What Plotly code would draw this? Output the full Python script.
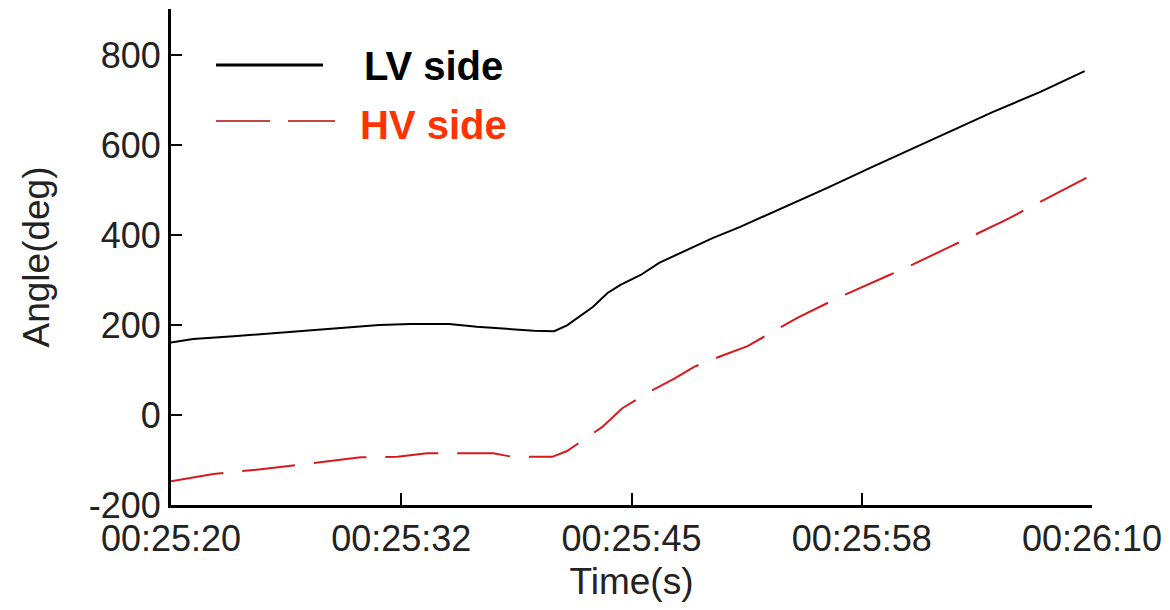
import plotly.graph_objects as go

# time in seconds after 00:25:20
lv_t = [0.0, 1.2, 3.4, 5.2, 6.8, 9.3, 11.3, 13.0, 15.1, 16.6, 18.4, 19.7, 20.8, 21.5, 22.9, 23.7,
        24.4, 25.5, 26.5, 28.0, 29.4, 30.9, 32.7, 34.1, 35.6, 37.9, 40.1, 42.3, 44.6, 47.2, 49.6]
lv_angle = [161, 169, 175, 181, 186, 193, 200, 202, 202, 196, 191, 187, 186, 199, 240, 271,
            289, 311, 338, 367, 393, 418, 451, 478, 504, 548, 589, 630, 673, 718, 764]

hv_t = [0.0, 2.3, 5.0, 8.1, 10.3, 12.3, 13.9, 17.5, 18.4, 20.0, 20.7, 21.5, 23.4, 24.5, 25.9,
        27.3, 28.4, 29.8, 31.3, 34.0, 36.3, 39.0, 40.2, 42.3, 44.1, 45.3, 48.1, 49.7]
hv_angle = [-147, -131, -120, -104, -94, -93, -85, -85, -92, -93, -93, -80, -27, 15, 50,
            80, 107, 130, 153, 216, 262, 311, 333, 374, 409, 433, 493, 527]

tick_vals = [0, 12.5, 25, 37.5, 50]
tick_text = ["00:25:20", "00:25:32", "00:25:45", "00:25:58", "00:26:10"]
y_ticks = [-200, 0, 200, 400, 600, 800]
y_tick_text = ["-200", "0", "200", "400", "600", "800"]

FONT = "Liberation Sans, Arial, sans-serif"

fig = go.Figure()
fig.add_trace(go.Scatter(x=lv_t, y=lv_angle, mode="lines", name="LV side",
                         line=dict(color="black", width=2)))
fig.add_trace(go.Scatter(x=hv_t, y=hv_angle, mode="lines", name="HV side",
                         line=dict(color="rgb(215,25,30)", width=2, dash="53px,19px")))

# custom legend
fig.add_shape(type="line", xref="paper", yref="paper", x0=0.0489, x1=0.165, y0=0.887, y1=0.887,
              line=dict(color="black", width=3))
fig.add_shape(type="line", xref="paper", yref="paper", x0=0.0489, x1=0.178, y0=0.774, y1=0.774,
              line=dict(color="rgb(190,70,70)", width=2, dash="54px,18px"))
fig.add_annotation(xref="paper", yref="paper", x=0.2074, y=0.885, text="<b>LV side</b>",
                   showarrow=False, xanchor="left", yanchor="middle",
                   font=dict(family=FONT, size=40, color="black"))
fig.add_annotation(xref="paper", yref="paper", x=0.2030, y=0.766, text="<b>HV side</b>",
                   showarrow=False, xanchor="left", yanchor="middle",
                   font=dict(family=FONT, size=40, color="rgb(255,51,0)"))

fig.update_layout(
    width=1170, height=610,
    margin=dict(l=171, r=78, t=9, b=105),
    plot_bgcolor="white", paper_bgcolor="white",
    showlegend=False,
    font=dict(family=FONT, size=37, color="#222"),
)
fig.update_xaxes(range=[0, 50], tickvals=tick_vals, ticktext=tick_text,
                 showline=True, linewidth=3, linecolor="black",
                 ticks="inside", ticklen=12, tickwidth=2, tickcolor="black",
                 showgrid=False, zeroline=False,
                 tickfont=dict(size=36, color="#222"),
                 title=dict(text="Time(s)", font=dict(size=37, color="#222"), standoff=10))
fig.update_yaxes(range=[-200, 902], tickvals=y_ticks, ticktext=y_tick_text,
                 showline=True, linewidth=3, linecolor="black",
                 ticks="inside", ticklen=11, tickwidth=2, tickcolor="black",
                 showgrid=False, zeroline=False,
                 tickfont=dict(size=36, color="#222"),
                 title=dict(text="Angle(deg)", font=dict(size=37, color="#222"), standoff=28))

fig.write_html("out.html")
